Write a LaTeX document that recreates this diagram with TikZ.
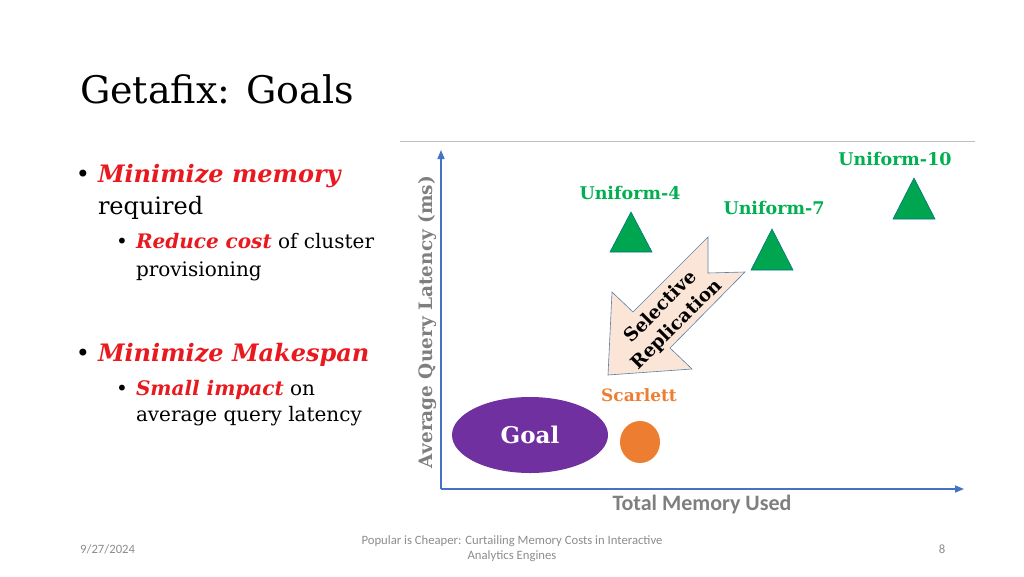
\documentclass[tikz,border=0pt]{standalone}
\usepackage{fontspec}
\setmainfont{DejaVu Serif}
\newfontfamily\calibri{Carlito}
\usetikzlibrary{shapes.geometric,arrows.meta}
\definecolor{bulred}{HTML}{E8191F}
\definecolor{labgreen}{HTML}{00B050}
\definecolor{trigreen}{HTML}{00A550}
\definecolor{axblue}{HTML}{4472C4}
\definecolor{axgray}{HTML}{7F7F7F}
\definecolor{scorange}{HTML}{ED7D31}
\definecolor{goalpurple}{HTML}{7030A0}
\definecolor{peach}{HTML}{FBE5D6}
\definecolor{arrowedge}{HTML}{5B7FA8}
\definecolor{footgray}{HTML}{8C8C8C}
\tikzset{
  txt/.style={anchor=base west, inner sep=0pt, outer sep=0pt},
  lvlone/.style={txt, font=\fontsize{24}{28}\selectfont},
  lvltwo/.style={txt, font=\fontsize{20}{24}\selectfont},
  glabel/.style={inner sep=0pt, text=labgreen, font=\fontsize{17.5}{20}\selectfont\bfseries},
  tri/.style={fill=trigreen, draw=trigreen!70!blue, line width=0.6pt},
  axis/.style={draw=axblue, line width=1.5pt, -{Triangle[length=9pt,width=7pt]}},
  foot/.style={inner sep=0pt, text=footgray, font=\calibri\fontsize{12.7}{15}\selectfont}
}
\newcommand{\red}[1]{\textcolor{bulred}{\textbf{\textit{#1}}}}
\begin{document}
\begin{tikzpicture}[x=1pt,y=-1pt]
\useasboundingbox (0,0) rectangle (1024,576);
% title
\node[txt, font=\fontsize{38}{44}\selectfont] (title) at (80,103) {Getafix: Goals};
\draw[black!25, line width=0.8pt] (400,141) -- (975,141);
% bullets
\node[lvlone, anchor=base] (b1) at (83,182) {\textbullet};
\node[lvlone] (t1) at (98,182) {\red{Minimize memory}};
\node[lvlone] (t1b) at (98,214) {required};
\node[lvltwo, anchor=base] (b2) at (122,248) {\textbullet};
\node[lvltwo] (t2) at (136,248) {\red{Reduce cost} of cluster};
\node[lvltwo] (t2b) at (136,276) {provisioning};
\node[lvlone, anchor=base] (b3) at (83,361) {\textbullet};
\node[lvlone] (t3) at (98,361) {\red{Minimize Makespan}};
\node[lvltwo, anchor=base] (b4) at (122,395) {\textbullet};
\node[lvltwo] (t4) at (136,395) {\red{Small impact} on};
\node[lvltwo] (t4b) at (136,421) {average query latency};
% axes
\coordinate (O) at (441,489);
\coordinate (Ytop) at (441,150);
\coordinate (Xend) at (964,489);
\draw[axis] (O) -- (Ytop);
\draw[axis] (O) -- (Xend);
\node[rotate=90, inner sep=0pt, text=axgray, font=\fontsize{18.5}{22}\selectfont\bfseries] (ylab) at (428,322) {Average Query Latency (ms)};
\node[inner sep=0pt, text=axgray, font=\calibri\fontsize{22}{25}\selectfont\bfseries] (xlab) at (702,505) {Total Memory Used};
% triangles
\draw[tri] (610,252) -- (631,212) -- (652,252) -- cycle;
\draw[tri] (751,270) -- (772,229) -- (793,270) -- cycle;
\draw[tri] (893,219) -- (914,178) -- (935,219) -- cycle;
\node[glabel] (u4) at (630,193) {Uniform-4};
\node[glabel] (u7) at (774,208) {Uniform-7};
\node[glabel] (u10) at (895,159) {Uniform-10};
% selective replication arrow
\draw[fill=peach, draw=arrowedge, line width=0.6pt]
  (708,237) -- (633,312) -- (612,292) -- (608,375) -- (692,369) -- (670,348)
  -- (745,272) -- (708,273) -- cycle;
\node[rotate=45, inner sep=0pt, font=\fontsize{18.5}{22}\selectfont\bfseries] (sel1) at (660,306) {Selective};
\node[rotate=45, inner sep=0pt, font=\fontsize{18.5}{22}\selectfont\bfseries] (sel2) at (677,325) {Replication};
% scarlett and goal
\node[inner sep=0pt, text=scorange, font=\fontsize{17}{20}\selectfont\bfseries] (scl) at (639,395) {Scarlett};
\node[ellipse, fill=scorange, minimum width=40pt, minimum height=42pt, inner sep=0pt] (scarlett) at (640,442) {};
\node[ellipse, fill=goalpurple, minimum width=156pt, minimum height=76pt, inner sep=0pt, text=white, font=\fontsize{23}{27}\selectfont\bfseries] (goal) at (530,435) {Goal};
% footer
\node[foot, anchor=west] (date) at (80,549) {9/27/2024};
\node[foot, align=center] (ftitle) at (512,549) {Popular is Cheaper: Curtailing Memory Costs in Interactive\\Analytics Engines};
\node[foot] (pg) at (942,549) {8};
\end{tikzpicture}
\end{document}
